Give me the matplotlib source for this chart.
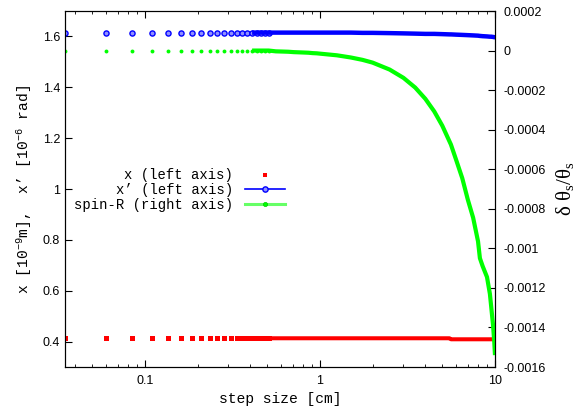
import numpy as np
import matplotlib
matplotlib.use('Agg')
import matplotlib.pyplot as plt
from matplotlib.lines import Line2D

plt.rcParams['mathtext.fontset'] = 'custom'
plt.rcParams['mathtext.rm'] = 'Liberation Mono'
plt.rcParams['mathtext.it'] = 'Liberation Mono'
plt.rcParams['mathtext.default'] = 'regular'

# step sizes [cm]
step_cm = [0.035, 0.06, 0.085, 0.11, 0.135, 0.16, 0.185, 0.21, 0.235, 0.26,
           0.285, 0.31, 0.335, 0.36, 0.385, 0.41, 0.435, 0.46, 0.485, 0.51,
           0.56, 0.61, 0.66, 0.71, 0.76, 0.81, 0.86, 0.91, 0.96, 1.01,
           1.25, 1.5, 1.75, 2.0, 2.5, 3.0, 3.5, 4.0, 4.5, 5.0,
           5.5, 5.6, 6.0, 6.5, 7.0, 7.5, 8.0, 8.2, 8.5, 9.0,
           9.35, 9.5, 9.75, 9.9, 10.0]

# x [1e-9 m], left axis
x_pos = [0.413] * 41 + [0.409] * 14

# x' [1e-6 rad], left axis
x_ang = [1.615] * 30 + [1.615, 1.615, 1.614, 1.614, 1.613, 1.612, 1.611, 1.610,
                        1.610, 1.609, 1.608, 1.608, 1.607, 1.606, 1.605, 1.604,
                        1.603, 1.602, 1.601, 1.600, 1.599, 1.599, 1.598, 1.597, 1.597]

# spin-R, delta theta_s / theta_s, right axis
spin_r = [0.0] * 20 + [-0.000004, -0.000005, -0.000006, -0.000008, -0.000009,
                       -0.00001, -0.000011, -0.000013, -0.000014, -0.000016,
                       -0.000024, -0.000035, -0.000047, -0.000061, -0.000096,
                       -0.000138, -0.000187, -0.000244, -0.000308, -0.000380,
                       -0.000460, -0.000475, -0.000553, -0.000645, -0.000755,
                       -0.000845, -0.000965, -0.001050, -0.001090, -0.001145,
                       -0.001230, -0.001290, -0.001390, -0.001470, -0.001540]

step = np.array(step_cm)
sparse = step <= 0.51
dense = step >= 0.41

mono = 'Liberation Mono'
sans = 'Liberation Sans'

fig = plt.figure(figsize=(5.87, 4.09), dpi=100)
ax = fig.add_axes([65/587, 1 - 367/409, 430/587, 356/409])
ax2 = ax.twinx()

red, blue, green = '#ff0000', '#0000ff', '#00ff00'

# points where they are apart, a thick band where they pile up
ax.plot(step[sparse], np.array(x_pos)[sparse], 's', color=red, ms=3.6, mew=0)
ax.plot(step[dense], np.array(x_pos)[dense], '-', color=red, lw=2.9, solid_capstyle='butt')
ax.plot(step[sparse], np.array(x_ang)[sparse], 'o', mfc='#9090ff', mec=blue, ms=3.7, mew=1.0)
ax.plot(step[dense], np.array(x_ang)[dense], '-', color=blue, lw=3.2, solid_capstyle='butt')
ax2.plot(step[sparse], np.array(spin_r)[sparse], 'o', color=green, ms=2.8, mew=0)
ax2.plot(step[dense], np.array(spin_r)[dense], '-', color=green, lw=3.0, solid_capstyle='butt')

ax.set_xscale('log')
ax.set_xlim(0.035, 10)
ax.set_ylim(0.3, 1.7)
ax2.set_ylim(-0.0016, 0.0002)

ax.set_yticks([0.4, 0.6, 0.8, 1.0, 1.2, 1.4, 1.6])
ax.set_yticklabels(['0.4', '0.6', '0.8', '1', '1.2', '1.4', '1.6'])
r_ticks = [-0.0016, -0.0014, -0.0012, -0.001, -0.0008, -0.0006, -0.0004, -0.0002, 0, 0.0002]
ax2.set_yticks(r_ticks)
ax2.set_yticklabels(['-0.0016', '-0.0014', '-0.0012', '-0.001', '-0.0008', '-0.0006',
                     '-0.0004', '-0.0002', '0', '0.0002'])
ax.set_xticks([0.1, 1, 10])
ax.set_xticklabels(['0.1', '1', '10'])

ax.tick_params(axis='x', which='both', direction='in', top=True, labelsize=9, pad=6)
ax.tick_params(axis='x', which='major', length=5)
ax.tick_params(axis='x', which='minor', length=2.5)
ax.tick_params(axis='y', direction='in', length=5, labelsize=9, right=False)
ax2.tick_params(axis='y', direction='in', length=5, labelsize=9, left=False, pad=6)
for a in (ax, ax2):
    for lab in a.get_xticklabels() + a.get_yticklabels():
        lab.set_family(sans)

ax.set_xlabel('step size [cm]', family=mono, fontsize=10.5, labelpad=3)
ax.set_ylabel("x [10$^{-9}$m],  x’ [10$^{-6}$ rad]", family=mono, fontsize=10.5, labelpad=6)
ax2.set_ylabel('δ θ$_s$/θ$_s$', family='Liberation Serif', fontsize=15, labelpad=6)

handles = [Line2D([], [], ls='none', marker='s', color=red, ms=3.4, mew=0),
           Line2D([], [], color=blue, lw=1.2, marker='o', mfc='#9090ff', mec=blue, ms=3.8, mew=1.0),
           Line2D([], [], color='#66ff66', lw=2.2, marker='o', mfc=green, mec='#00cc00', ms=3, mew=0.5)]
labels = ['x (left axis)', 'x’ (left axis)', 'spin-R (right axis)']
ax2.legend(handles, labels, loc='center right', bbox_to_anchor=(0.512, 0.497),
           markerfirst=False, frameon=False, prop={'family': mono, 'size': 10},
           handlelength=2.9, handletextpad=0.85, labelspacing=0.05,
           borderpad=0, borderaxespad=0)

fig.savefig('out.png', dpi=100)
